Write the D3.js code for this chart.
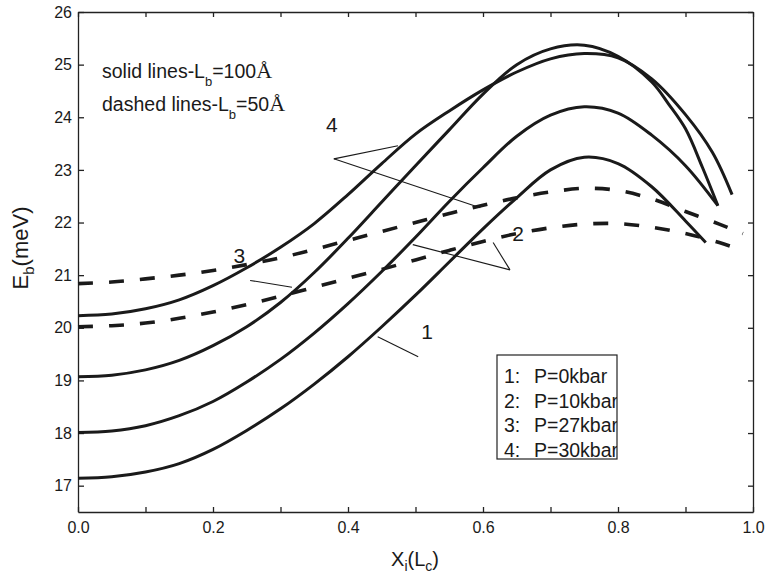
<!DOCTYPE html>
<html>
<head>
<meta charset="utf-8">
<script src="https://cdn.jsdelivr.net/npm/d3@7"></script>
<style>
body { margin: 0; background: #fff; }
text { font-family: 'Liberation Sans', Arial, Helvetica, sans-serif; fill: #1a1a1a; }
.axis path, .axis line { stroke: #222; stroke-width: 1.3; }
.axis text { font-size: 16px; fill: #1a1a1a; }
</style>
</head>
<body>
<svg id="chart" width="766" height="579"></svg>
<script>
// solid lines, Lb = 100 A  ([X_i, E_b])
const solid1 = [[0,17.14],[0.05,17.17],[0.1,17.26],[0.15,17.42],[0.2,17.69],[0.25,18.05],[0.3,18.46],[0.35,18.93],[0.4,19.45],[0.45,20.02],[0.5,20.62],[0.55,21.25],[0.6,21.88],[0.65,22.47],[0.7,23.0],[0.75,23.24],[0.8,23.12],[0.85,22.68],[0.9,22.03],[0.93,21.62]];
const solid2 = [[0,18.01],[0.05,18.04],[0.1,18.14],[0.15,18.33],[0.2,18.60],[0.25,18.97],[0.3,19.40],[0.35,19.90],[0.4,20.46],[0.45,21.07],[0.5,21.72],[0.55,22.40],[0.6,23.04],[0.65,23.64],[0.7,24.04],[0.75,24.20],[0.8,24.08],[0.85,23.66],[0.9,23.08],[0.948,22.32]];
const solid3 = [[0,19.07],[0.05,19.10],[0.1,19.20],[0.15,19.38],[0.2,19.66],[0.25,20.02],[0.3,20.48],[0.35,21.05],[0.4,21.70],[0.45,22.39],[0.5,23.08],[0.55,23.76],[0.6,24.44],[0.65,25.00],[0.7,25.30],[0.75,25.37],[0.8,25.16],[0.85,24.67],[0.875,24.25],[0.9,23.78],[0.925,23.05],[0.948,22.32]];
const solid4 = [[0,20.23],[0.05,20.26],[0.1,20.36],[0.15,20.53],[0.2,20.80],[0.25,21.14],[0.3,21.53],[0.35,21.98],[0.4,22.53],[0.45,23.12],[0.5,23.68],[0.55,24.12],[0.6,24.52],[0.65,24.86],[0.7,25.11],[0.75,25.21],[0.8,25.13],[0.85,24.73],[0.9,24.05],[0.94,23.33],[0.969,22.53]];
// dashed lines, Lb = 50 A
const dashedLow = [[0,20.02],[0.05,20.04],[0.1,20.09],[0.15,20.18],[0.2,20.30],[0.25,20.44],[0.3,20.60],[0.35,20.77],[0.4,20.94],[0.45,21.11],[0.5,21.29],[0.55,21.47],[0.6,21.64],[0.65,21.79],[0.7,21.90],[0.75,21.97],[0.8,21.98],[0.85,21.91],[0.9,21.79],[0.95,21.62],[0.985,21.47]];
const dashedHigh = [[0,20.84],[0.05,20.87],[0.1,20.93],[0.15,21.00],[0.2,21.09],[0.25,21.20],[0.3,21.33],[0.35,21.49],[0.4,21.66],[0.45,21.83],[0.5,22.00],[0.55,22.17],[0.6,22.33],[0.65,22.47],[0.7,22.58],[0.75,22.65],[0.8,22.61],[0.85,22.45],[0.9,22.21],[0.95,21.97],[0.985,21.79]];

const xTicks = d3.range(0, 11).map(function(i) { return i / 10; });
const yTicks = d3.range(17, 27);
const legendLabels = [['1:', 'P=0kbar'], ['2:', 'P=10kbar'], ['3:', 'P=27kbar'], ['4:', 'P=30kbar']];

// curve labels with pointer lines (data coords)
const curveLabels = [
    {text: '4', at: [0.376, 23.72], lines: [[[0.379, 23.21], [0.474, 23.46]], [[0.379, 23.21], [0.596, 22.28]]]},
    {text: '3', at: [0.239, 21.24], lines: [[[0.255, 20.90], [0.317, 20.77]]]},
    {text: '2', at: [0.652, 21.64], lines: [[[0.640, 21.10], [0.496, 21.58]], [[0.640, 21.10], [0.615, 21.62]]]},
    {text: '1', at: [0.517, 19.78], lines: [[[0.444, 19.83], [0.504, 19.45]]]}
];

const margin = {top: 12, right: 13, bottom: 67, left: 78};
const width = 766 - margin.left - margin.right;
const height = 579 - margin.top - margin.bottom;

const svg = d3.select('#chart');
const g = svg.append('g')
    .attr('transform', 'translate(' + margin.left + ',' + margin.top + ')');

const x = d3.scaleLinear().domain([0, 1]).range([0, width]);
const y = d3.scaleLinear().domain([16.5, 26]).range([height, 0]);

const fmtX = function(d) {
    return Math.round(d * 10) % 2 === 0 ? d3.format('.1f')(d) : '';
};

g.append('g')
    .attr('class', 'axis')
    .attr('transform', 'translate(0,' + height + ')')
    .call(d3.axisBottom(x).tickValues(xTicks).tickFormat(fmtX).tickSizeInner(-5).tickSizeOuter(0).tickPadding(10));

g.append('g')
    .attr('class', 'axis')
    .call(d3.axisTop(x).tickValues(xTicks).tickFormat('').tickSizeInner(-5).tickSizeOuter(0));

g.append('g')
    .attr('class', 'axis')
    .call(d3.axisLeft(y).tickValues(yTicks).tickFormat(d3.format('d')).tickSizeInner(-6).tickSizeOuter(0).tickPadding(6));

g.append('g')
    .attr('class', 'axis')
    .attr('transform', 'translate(' + width + ',0)')
    .call(d3.axisRight(y).tickValues(yTicks).tickFormat('').tickSizeInner(-5).tickSizeOuter(0));

const line = d3.line()
    .x(function(d) { return x(d[0]); })
    .y(function(d) { return y(d[1]); })
    .curve(d3.curveCatmullRom.alpha(0.5));

[solid1, solid2, solid3, solid4].forEach(function(s) {
    g.append('path')
        .attr('d', line(s))
        .attr('fill', 'none')
        .attr('stroke', '#1a1a1a')
        .attr('stroke-width', 3);
});

[dashedLow, dashedHigh].forEach(function(s) {
    g.append('path')
        .attr('d', line(s))
        .attr('fill', 'none')
        .attr('stroke', '#1a1a1a')
        .attr('stroke-width', 3.6)
        .attr('stroke-dasharray', '15,16');
});

// pointer lines and labels
curveLabels.forEach(function(c) {
    c.lines.forEach(function(l) {
        g.append('line')
            .attr('x1', x(l[0][0])).attr('y1', y(l[0][1]))
            .attr('x2', x(l[1][0])).attr('y2', y(l[1][1]))
            .attr('stroke', '#1a1a1a')
            .attr('stroke-width', 1.1);
    });
    g.append('text')
        .attr('x', x(c.at[0]))
        .attr('y', y(c.at[1]))
        .attr('text-anchor', 'middle')
        .style('font-size', '21px')
        .text(c.text);
});

// notes on line styles
const note1 = g.append('text').attr('x', 24).attr('y', 66).style('font-size', '19.5px');
note1.append('tspan').text('solid lines-L');
note1.append('tspan').attr('dy', 8).style('font-size', '13px').text('b');
note1.append('tspan').attr('dy', -8).text('=100');
note1.append('tspan').style('font-family', "'Liberation Serif', 'Times New Roman', serif").style('font-size', '22px').text('Å');

const note2 = g.append('text').attr('x', 24).attr('y', 99).style('font-size', '19.5px');
note2.append('tspan').text('dashed lines-L');
note2.append('tspan').attr('dy', 8).style('font-size', '13px').text('b');
note2.append('tspan').attr('dy', -8).text('=50');
note2.append('tspan').style('font-family', "'Liberation Serif', 'Times New Roman', serif").style('font-size', '22px').text('Å');

// legend box
const lg = svg.append('g');
svg.append('clipPath').attr('id', 'legclip')
    .append('rect').attr('x', 497).attr('y', 355).attr('width', 120).attr('height', 104);
const lgText = lg.append('g').attr('clip-path', 'url(#legclip)');
legendLabels.forEach(function(d, i) {
    lgText.append('text').attr('x', 504).attr('y', 383 + i * 24.7).style('font-size', '19.5px').text(d[0]);
    lgText.append('text').attr('x', 534).attr('y', 383 + i * 24.7).style('font-size', '19.5px').text(d[1]);
});
lg.append('rect')
    .attr('x', 497).attr('y', 355).attr('width', 120).attr('height', 104)
    .attr('fill', 'none').attr('stroke', '#222').attr('stroke-width', 1.2);

// axis titles
const yt = svg.append('text')
    .attr('transform', 'translate(28,248) rotate(-90)')
    .attr('text-anchor', 'middle')
    .style('font-size', '22px');
yt.append('tspan').text('E');
yt.append('tspan').attr('dy', 6).style('font-size', '15px').text('b');
yt.append('tspan').attr('dy', -6).text('(meV)');

const xt = svg.append('text')
    .attr('x', 415).attr('y', 566)
    .attr('text-anchor', 'middle')
    .style('font-size', '20px');
xt.append('tspan').text('X');
xt.append('tspan').attr('dy', 5).style('font-size', '14px').text('i');
xt.append('tspan').attr('dy', -5).text('(L');
xt.append('tspan').attr('dy', 5).style('font-size', '14px').text('c');
xt.append('tspan').attr('dy', -5).text(')');
</script>
</body>
</html>
